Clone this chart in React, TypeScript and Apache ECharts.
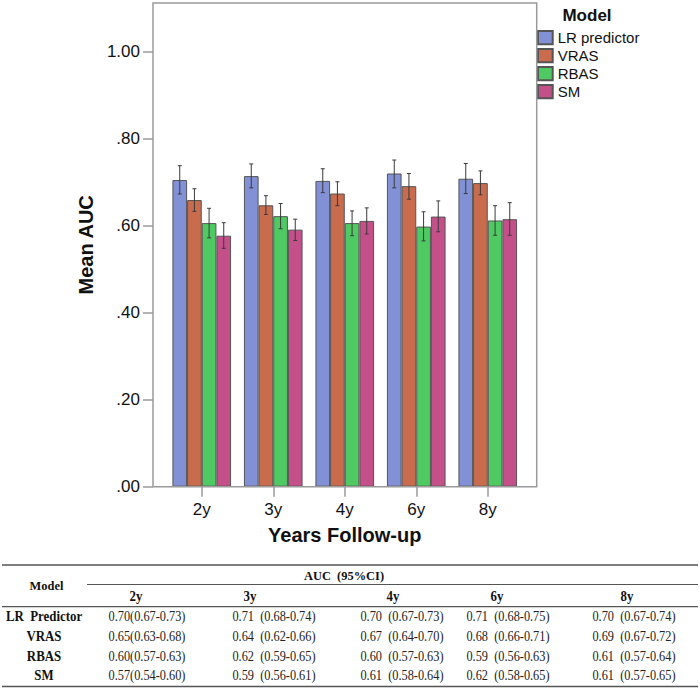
import React, { useEffect, useRef } from "react";
import * as echarts from "echarts";

const years = ["2y", "3y", "4y", "6y", "8y"];
const models = ["LR predictor", "VRAS", "RBAS", "SM"];
const yTicks = [0, 0.2, 0.4, 0.6, 0.8, 1.0];

const lrMean = [0.705, 0.714, 0.703, 0.72, 0.708];
const lrLow = [0.673, 0.687, 0.676, 0.687, 0.674];
const lrHigh = [0.738, 0.742, 0.731, 0.751, 0.743];
const vrasMean = [0.659, 0.647, 0.674, 0.691, 0.698];
const vrasLow = [0.633, 0.626, 0.646, 0.661, 0.671];
const vrasHigh = [0.685, 0.669, 0.701, 0.72, 0.726];
const rbasMean = [0.606, 0.622, 0.606, 0.598, 0.612];
const rbasLow = [0.572, 0.593, 0.577, 0.565, 0.578];
const rbasHigh = [0.64, 0.651, 0.634, 0.632, 0.646];
const smMean = [0.577, 0.591, 0.611, 0.621, 0.615];
const smLow = [0.548, 0.566, 0.581, 0.586, 0.578];
const smHigh = [0.607, 0.615, 0.641, 0.657, 0.653];

const colors = ["#8291d6", "#c96c4d", "#4fca63", "#c4508a"];

const tableTitle = "AUC  (95%CI)";
const tableModelHeader = "Model";
const tableRowLabels = ["LR  Predictor", "VRAS", "RBAS", "SM"];
const tableLR = ["0.70(0.67-0.73)", "0.71  (0.68-0.74)", "0.70  (0.67-0.73)", "0.71  (0.68-0.75)", "0.70  (0.67-0.74)"];
const tableVRAS = ["0.65(0.63-0.68)", "0.64  (0.62-0.66)", "0.67  (0.64-0.70)", "0.68  (0.66-0.71)", "0.69  (0.67-0.72)"];
const tableRBAS = ["0.60(0.57-0.63)", "0.62  (0.59-0.65)", "0.60  (0.57-0.63)", "0.59  (0.56-0.63)", "0.61  (0.57-0.64)"];
const tableSM = ["0.57(0.54-0.60)", "0.59  (0.56-0.61)", "0.61  (0.58-0.64)", "0.62  (0.58-0.65)", "0.61  (0.57-0.65)"];

const means = [lrMean, vrasMean, rbasMean, smMean];
const lows = [lrLow, vrasLow, rbasLow, smLow];
const highs = [lrHigh, vrasHigh, rbasHigh, smHigh];
const tableData = [tableLR, tableVRAS, tableRBAS, tableSM];

const SANS = "'Liberation Sans', Arial, sans-serif";
const SERIF = "'Liberation Serif', 'Times New Roman', serif";
const CAT_GAP = 0.18;

export default function App() {
  const ref = useRef<HTMLDivElement>(null);
  useEffect(() => {
    if (!ref.current) return;
    const chart = echarts.init(ref.current, null, { renderer: "svg" });

    const barSeries = models.map((m, k) => ({
      name: m,
      type: "bar",
      data: means[k],
      barGap: "0%",
      barCategoryGap: CAT_GAP * 100 + "%",
      itemStyle: { color: colors[k], borderColor: "#555", borderWidth: 1 },
      emphasis: { disabled: true },
    }));

    const errSeries = models.map((m, k) => ({
      name: m + " CI",
      type: "custom",
      data: years.map((_, i) => [i, lows[k][i], highs[k][i]]),
      encode: { x: 0, y: [1, 2] },
      z: 5,
      renderItem: (params: any, api: any) => {
        const i = api.value(0);
        const lo = api.coord([i, api.value(1)]);
        const hi = api.coord([i, api.value(2)]);
        const band = api.size([1, 0])[0];
        const bw = (band * (1 - CAT_GAP)) / 4;
        const x = lo[0] + (k - 1.5) * bw;
        const cap = 2;
        const st = { stroke: "#3a3a3a", lineWidth: 1 };
        return {
          type: "group",
          children: [
            { type: "line", shape: { x1: x, y1: hi[1], x2: x, y2: lo[1] }, style: st },
            { type: "line", shape: { x1: x - cap, y1: hi[1], x2: x + cap, y2: hi[1] }, style: st },
            { type: "line", shape: { x1: x - cap, y1: lo[1], x2: x + cap, y2: lo[1] }, style: st },
          ],
        };
      },
    }));

    const graphics: any[] = [];
    graphics.push({
      type: "rect",
      shape: { x: 153, y: 3, width: 383.7, height: 483.7 },
      style: { fill: "none", stroke: "#9a9a9a", lineWidth: 1.5 },
      z: 10,
    });
    graphics.push({
      type: "text",
      x: 587,
      y: 15,
      style: { text: "Model", font: `bold 17px ${SANS}`, fill: "#111", align: "center", verticalAlign: "middle" },
    });

    const lineStyle = (w: number) => ({ stroke: "#555", lineWidth: w });
    graphics.push({ type: "line", shape: { x1: 2, y1: 565, x2: 698, y2: 565 }, style: lineStyle(1.6) });
    graphics.push({ type: "line", shape: { x1: 87, y1: 584.5, x2: 698, y2: 584.5 }, style: lineStyle(1.2) });
    graphics.push({ type: "line", shape: { x1: 2, y1: 606.7, x2: 698, y2: 606.7 }, style: lineStyle(1.2) });
    graphics.push({ type: "line", shape: { x1: 2, y1: 686.5, x2: 698, y2: 686.5 }, style: lineStyle(1.6) });
    graphics.push({
      type: "text", x: 46.5, y: 585.7, scaleX: 0.92,
      style: { text: tableModelHeader, font: `bold 13.5px ${SERIF}`, fill: "#111", align: "center", verticalAlign: "middle" },
    });
    graphics.push({
      type: "text", x: 344, y: 575.7, scaleX: 0.92,
      style: { text: tableTitle, font: `bold 13.5px ${SERIF}`, fill: "#111", align: "center", verticalAlign: "middle" },
    });
    const headX = [136, 250, 393, 497, 627];
    const cellX = [147, 274, 402, 508, 634];
    const rowY = [616.7, 636, 656, 675.5];
    years.forEach((y, i) => {
      graphics.push({
        type: "text", x: headX[i], y: 596.7, scaleX: 0.92,
        style: { text: y, font: `bold 14px ${SERIF}`, fill: "#111", align: "center", verticalAlign: "middle" },
      });
    });
    tableRowLabels.forEach((lab, r) => {
      graphics.push({
        type: "text", x: 44, y: rowY[r], scaleX: 0.92,
        style: { text: lab, font: `bold 14px ${SERIF}`, fill: "#111", align: "center", verticalAlign: "middle" },
      });
      tableData[r].forEach((txt, c) => {
        graphics.push({
          type: "text", x: cellX[c], y: rowY[r], scaleX: 0.88,
          style: { text: txt, font: `14px ${SERIF}`, fill: "#222", align: "center", verticalAlign: "middle" },
        });
      });
    });

    chart.setOption({
      animation: false,
      backgroundColor: "#fff",
      grid: { left: 166, width: 357.5, top: 3, height: 483.7, containLabel: false },
      legend: {
        data: models,
        orient: "vertical",
        left: 537,
        top: 30,
        itemWidth: 14.7,
        itemHeight: 13.3,
        itemGap: 2.7,
        padding: 0,
        icon: "rect",
        selectedMode: false,
        textStyle: { fontFamily: SANS, fontSize: 15, color: "#111", lineHeight: 15 },
      },
      xAxis: {
        type: "category",
        data: years,
        axisLine: { show: false },
        axisTick: { show: true, alignWithLabel: true, length: 10, lineStyle: { color: "#9a9a9a", width: 1.5 } },
        axisLabel: { fontFamily: SANS, fontSize: 17, color: "#111", margin: 14 },
        name: "Years Follow-up",
        nameLocation: "middle",
        nameGap: 38,
        nameTextStyle: { fontFamily: SANS, fontSize: 20, fontWeight: "bold", color: "#111" },
      },
      yAxis: {
        type: "value",
        min: 0,
        max: 1.112,
        interval: 0.2,
        offset: 13,
        axisLine: { show: false },
        splitLine: { show: false },
        axisTick: { show: true, length: 10, customValues: yTicks, lineStyle: { color: "#9a9a9a", width: 1.5 } },
        axisLabel: {
          customValues: yTicks,
          fontFamily: SANS,
          fontSize: 17,
          color: "#111",
          margin: 13,
          formatter: (v: number) => v.toFixed(2).replace(/^0/, ""),
        },
        name: "Mean AUC",
        nameLocation: "middle",
        nameGap: 48,
        nameTextStyle: { fontFamily: SANS, fontSize: 20, fontWeight: "bold", color: "#111" },
      },
      series: [...barSeries, ...errSeries],
      graphic: graphics,
    });
    return () => chart.dispose();
  }, []);
  return (
    <div
      ref={ref}
      style={{ position: "absolute", left: 0, top: 0, width: 700, height: 689, background: "#fff" }}
    />
  );
}
